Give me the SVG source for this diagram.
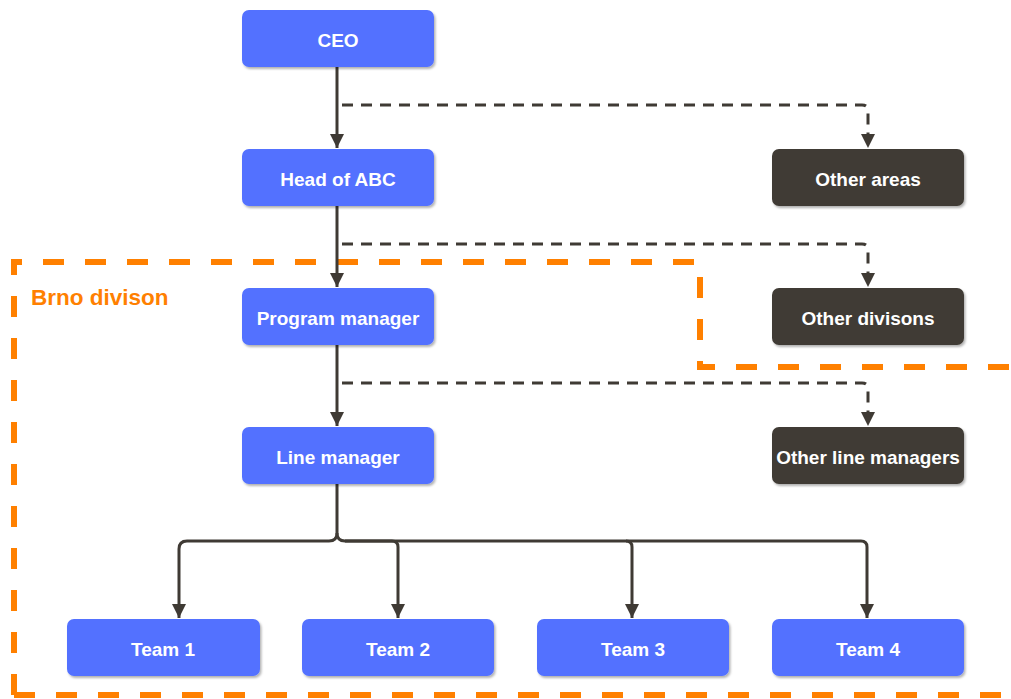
<svg xmlns="http://www.w3.org/2000/svg" width="1011" height="699" viewBox="0 0 1011 699">
<defs>
<marker id="ah" markerWidth="15" markerHeight="14" refX="14" refY="7" orient="auto" markerUnits="userSpaceOnUse">
<path d="M0,0 L14,7 L0,14 Z" fill="#3f3a34"/>
</marker>
<filter id="sh" x="-10%" y="-10%" width="120%" height="130%">
<feDropShadow dx="1.5" dy="2" stdDeviation="1.2" flood-color="#000" flood-opacity="0.3"/>
</filter>
</defs>
<style>
.b{fill:#5271ff;filter:url(#sh)}
.d{fill:#3f3a34;filter:url(#sh)}
.t{font-family:"Liberation Sans",Arial,sans-serif;font-weight:bold;font-size:19px;fill:#fff;text-anchor:middle}
.c{fill:none;stroke:#3f3a34;stroke-width:3;stroke-linejoin:round}
.dash{stroke-dasharray:11,8}
</style>
<rect width="1011" height="699" fill="#fff"/>
<g id="region">
<path d="M14,695 L14,262 L700,262 L700,367 L1011,367" fill="none" stroke="#ff8000" stroke-width="6" stroke-dasharray="21,21"/>
<path d="M14,695 L1011,695" fill="none" stroke="#ff8000" stroke-width="6" stroke-dasharray="21,21"/>
<text x="31" y="305" font-family="'Liberation Sans',Arial,sans-serif" font-weight="bold" font-size="22.5" fill="#ff8000">Brno divison</text>
</g>
<g id="connectors">
<path class="c" d="M337,67 L337,148" marker-end="url(#ah)"/>
<path class="c dash" d="M342,105 L862,105 Q868,105 868,111 L868,148" marker-end="url(#ah)"/>
<path class="c" d="M337,206 L337,287" marker-end="url(#ah)"/>
<path class="c dash" d="M342,244 L862,244 Q868,244 868,250 L868,287" marker-end="url(#ah)"/>
<path class="c" d="M337,345 L337,426" marker-end="url(#ah)"/>
<path class="c dash" d="M342,383 L862,383 Q868,383 868,389 L868,426" marker-end="url(#ah)"/>
<path class="c" d="M337,484 L337,533 Q337,541 329,541 L187,541 Q179,541 179,549 L179,618" marker-end="url(#ah)"/>
<path class="c" d="M337,533 Q337,541 345,541 L392,541 Q398,541 398,547 L398,618" marker-end="url(#ah)"/>
<path class="c" d="M345,541 L626,541 Q632,541 632,547 L632,618" marker-end="url(#ah)"/>
<path class="c" d="M626,541 L861,541 Q867,541 867,547 L867,618" marker-end="url(#ah)"/>
</g>
<g id="ceo"><rect class="b" x="242" y="10" width="192" height="57" rx="7"/><text class="t" x="338" y="47">CEO</text></g>
<g id="head"><rect class="b" x="242" y="149" width="192" height="57" rx="7"/><text class="t" x="338" y="186">Head of ABC</text></g>
<g id="pm"><rect class="b" x="242" y="288" width="192" height="57" rx="7"/><text class="t" x="338" y="325">Program manager</text></g>
<g id="lm"><rect class="b" x="242" y="427" width="192" height="57" rx="7"/><text class="t" x="338" y="464">Line manager</text></g>
<g id="oa"><rect class="d" x="772" y="149" width="192" height="57" rx="7"/><text class="t" x="868" y="186">Other areas</text></g>
<g id="od"><rect class="d" x="772" y="288" width="192" height="57" rx="7"/><text class="t" x="868" y="325">Other divisons</text></g>
<g id="olm"><rect class="d" x="772" y="427" width="192" height="57" rx="7"/><text class="t" x="868" y="464">Other line managers</text></g>
<g id="t1"><rect class="b" x="67" y="619" width="193" height="57" rx="7"/><text class="t" x="163" y="656">Team 1</text></g>
<g id="t2"><rect class="b" x="302" y="619" width="192" height="57" rx="7"/><text class="t" x="398" y="656">Team 2</text></g>
<g id="t3"><rect class="b" x="537" y="619" width="192" height="57" rx="7"/><text class="t" x="633" y="656">Team 3</text></g>
<g id="t4"><rect class="b" x="772" y="619" width="192" height="57" rx="7"/><text class="t" x="868" y="656">Team 4</text></g>
</svg>
